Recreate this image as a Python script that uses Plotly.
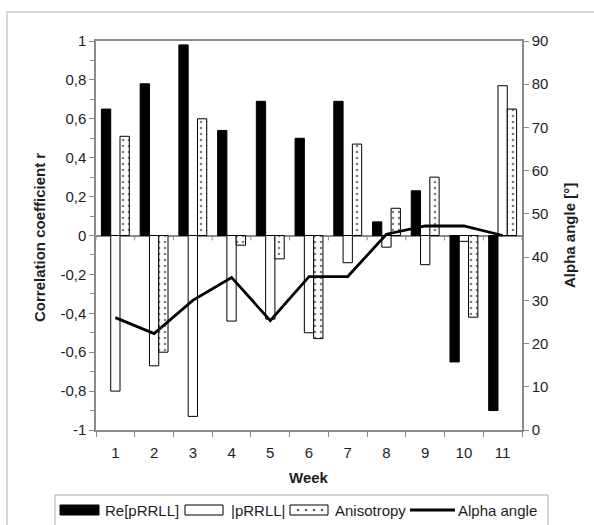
import plotly.graph_objects as go

weeks = [1, 2, 3, 4, 5, 6, 7, 8, 9, 10, 11]
week_labels = ["1", "2", "3", "4", "5", "6", "7", "8", "9", "10", "11"]
re_prrll = [0.65, 0.78, 0.98, 0.54, 0.69, 0.50, 0.69, 0.07, 0.23, -0.65, -0.90]
abs_prrll = [-0.80, -0.67, -0.93, -0.44, -0.43, -0.50, -0.14, -0.06, -0.15, -0.03, 0.77]
anisotropy = [0.51, -0.60, 0.60, -0.05, -0.12, -0.53, 0.47, 0.14, 0.30, -0.42, 0.65]
alpha_angle = [26, 22.3, 30, 35.3, 25.3, 35.5, 35.5, 45.3, 47.2, 47.2, 45]
series_names = ["Re[pRRLL]", "|pRRLL|", "Anisotropy", "Alpha angle"]

left_tickvals = [-1, -0.8, -0.6, -0.4, -0.2, 0, 0.2, 0.4, 0.6, 0.8, 1]
left_ticktext = ["-1", "-0,8", "-0,6", "-0,4", "-0,2", "0", "0,2", "0,4", "0,6", "0,8", "1"]
left_minor = [round(-1 + 0.1 * i, 1) for i in range(21)]
right_tickvals = [0, 10, 20, 30, 40, 50, 60, 70, 80, 90]
boundaries = [0.5 + i for i in range(12)]

FONT = "Liberation Sans, Arial, sans-serif"
AX = "#8a8a8a"
TXT = "#1e1e1e"
FS = 15

# plot area in pixels: x 96..522, y 41..430
PL, PR, PT, PB = 96, 522, 41, 430


def px(x):
    return (x - PL) / (PR - PL)


def py(y):
    return (PB - y) / (PB - PT)


fig = go.Figure()
fig.add_trace(go.Bar(x=weeks, y=re_prrll, name=series_names[0], showlegend=False,
                     marker=dict(color="black", line=dict(color="black", width=1))))
fig.add_trace(go.Bar(x=weeks, y=abs_prrll, name=series_names[1], showlegend=False,
                     marker=dict(color="white", line=dict(color="black", width=1))))
fig.add_trace(go.Bar(x=weeks, y=anisotropy, name=series_names[2], showlegend=False,
                     marker=dict(color="white", line=dict(color="black", width=1),
                                 pattern=dict(shape=".", fgcolor="black", bgcolor="white",
                                              size=6, solidity=0.15, fillmode="overlay"))))
fig.add_trace(go.Scatter(x=weeks, y=alpha_angle, name=series_names[3], yaxis="y2",
                         showlegend=False, mode="lines", line=dict(color="black", width=2.8)))

shapes = [dict(type="rect", xref="paper", yref="paper",
               x0=px(7), x1=px(620), y0=py(560), y1=py(12),
               line=dict(color="#d6d6d6", width=2), layer="below")]
for b in boundaries:
    shapes.append(dict(type="line", xref="x", yref="y", x0=b, x1=b, y0=0, y1=-0.025,
                       line=dict(color=AX, width=1)))

# legend (drawn below the plot, as in the reference)
shapes.append(dict(type="rect", xref="paper", yref="paper", x0=px(55), x1=px(548),
                   y0=py(560), y1=py(495), line=dict(color="#a8a8a8", width=1),
                   fillcolor="white"))
shapes.append(dict(type="rect", xref="paper", yref="paper", x0=px(60), x1=px(99),
                   y0=py(515), y1=py(505), line=dict(color="black", width=1),
                   fillcolor="black"))
shapes.append(dict(type="rect", xref="paper", yref="paper", x0=px(185), x1=px(223),
                   y0=py(515), y1=py(505), line=dict(color="black", width=1),
                   fillcolor="white"))
shapes.append(dict(type="rect", xref="paper", yref="paper", x0=px(290), x1=px(328),
                   y0=py(515), y1=py(505), line=dict(color="black", width=1),
                   fillcolor="white"))
for dx in [298, 306, 314, 322]:
    shapes.append(dict(type="circle", xref="paper", yref="paper", x0=px(dx - 0.8),
                       x1=px(dx + 0.8), y0=py(510.8), y1=py(509.2),
                       line=dict(color="black", width=0.5), fillcolor="black"))
shapes.append(dict(type="line", xref="paper", yref="paper", x0=px(410), x1=px(455),
                   y0=py(510), y1=py(510), line=dict(color="black", width=2.8)))

legend_text_x = [103, 229, 333, 456]
annotations = [
    dict(text="<b>Correlation coefficient r</b>", xref="paper", yref="paper",
         x=px(39), y=py(238), xanchor="center", yanchor="middle", textangle=-90,
         showarrow=False, font=dict(size=FS, color=TXT)),
    dict(text="<b>Alpha angle [°]</b>", xref="paper", yref="paper",
         x=px(570), y=py(236), xanchor="center", yanchor="middle", textangle=-90,
         showarrow=False, font=dict(size=FS, color=TXT)),
    dict(text="<b>Week</b>", xref="paper", yref="paper",
         x=px(309), y=py(478), xanchor="center", yanchor="middle", showarrow=False,
         font=dict(size=FS, color=TXT)),
]
for name, lx in zip(series_names, legend_text_x):
    annotations.append(dict(text=name, xref="paper", yref="paper", x=px(lx), y=py(510),
                            xanchor="left", yanchor="middle", showarrow=False,
                            font=dict(size=FS, color=TXT)))

fig.update_layout(
    width=594, height=525,
    margin=dict(l=PL, r=594 - PR, t=PT, b=525 - PB, autoexpand=False),
    paper_bgcolor="white", plot_bgcolor="white",
    font=dict(family=FONT, size=FS, color=TXT),
    barmode="group", bargap=0.28, bargroupgap=0,
    showlegend=False,
    xaxis=dict(range=[0.5, 11.5], tickmode="array", tickvals=weeks, ticktext=week_labels,
               ticks="", showline=True, linecolor=AX, linewidth=1.5, mirror=True,
               showgrid=False, zeroline=False, automargin=False, ticklabelstandoff=8,
               minor=dict(tickmode="array", tickvals=boundaries, ticks="outside",
                          ticklen=5, tickcolor=AX, showgrid=False),
               tickfont=dict(size=FS, color=TXT)),
    yaxis=dict(range=[-1, 1], tickmode="array", tickvals=left_tickvals, ticktext=left_ticktext,
               ticks="outside", ticklen=5, tickcolor=AX, showline=True, linecolor=AX,
               linewidth=1.5, showgrid=False, zeroline=True, zerolinecolor=AX,
               zerolinewidth=1.5, automargin=False,
               minor=dict(tickmode="array", tickvals=left_minor, ticks="outside",
                          ticklen=4, tickcolor=AX, showgrid=False),
               tickfont=dict(size=FS, color=TXT)),
    yaxis2=dict(range=[0, 90], overlaying="y", side="right", tickmode="array",
                tickvals=right_tickvals, ticks="outside", ticklen=5, tickcolor=AX,
                showline=True, linecolor=AX, linewidth=1.5, showgrid=False, zeroline=False,
                automargin=False, tickfont=dict(size=FS, color=TXT)),
    shapes=shapes,
    annotations=annotations,
)

fig.write_html("out.html", config={"displayModeBar": False},
               post_script="document.body.style.margin='0';")
